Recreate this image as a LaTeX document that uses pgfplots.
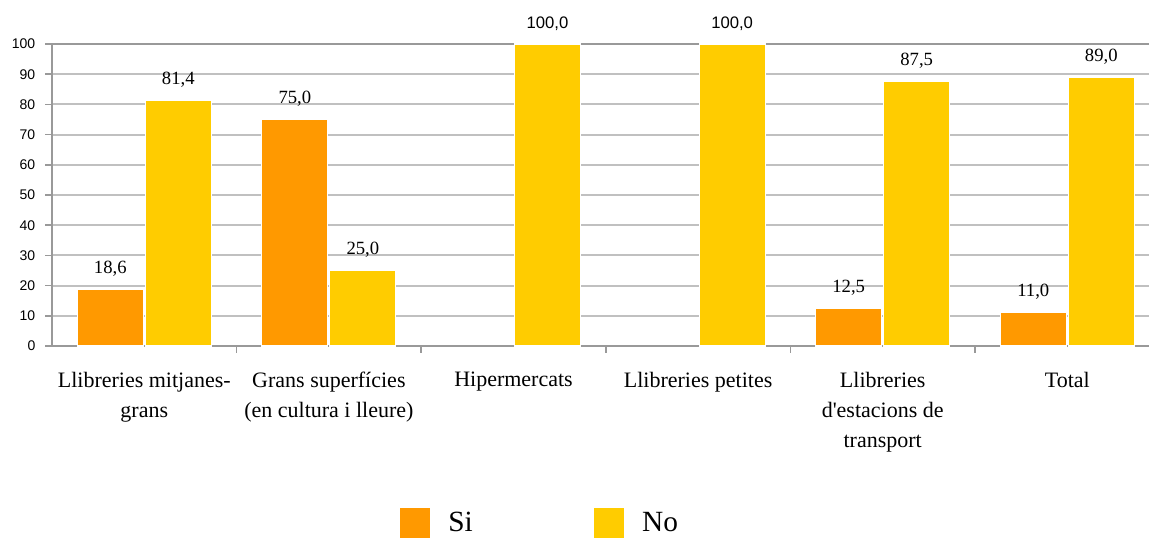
\documentclass[border=0pt]{standalone}
\usepackage{pgfplots}
\pgfplotsset{compat=1.18}
\usepackage{fontspec}
\setmainfont{Liberation Serif}
\newfontfamily\arialf{Liberation Sans}
\definecolor{siC}{HTML}{FF9900}
\definecolor{noC}{HTML}{FFCC00}
\definecolor{axC}{HTML}{999999}
\definecolor{grC}{HTML}{C0C0C0}
\begin{document}
\begin{tikzpicture}
\useasboundingbox (-39pt,-144.75pt) rectangle (822.75pt,259.5pt);
\begin{axis}[
  scale only axis,
  width=830.7pt, height=226.5pt,
  xmin=-0.5, xmax=5.5,
  ymin=0, ymax=100,
  ytick={0,10,...,100},
  xtick={0,1,2,3,4,5},
  xticklabels={Llibreries mitjanes-\\grans, Grans superfícies\\(en cultura i lleure), Hipermercats, Llibreries petites, Llibreries\\d\textquotesingle estacions de\\transport, Total},
  minor xtick={0.5,1.5,2.5,3.5,4.5},
  tick align=outside,
  major tick length=5pt,
  minor tick length=5pt,
  xtick pos=bottom, ytick pos=left,
  x tick style={draw=none},
  minor x tick style={draw=axC, line width=1.2pt},
  y tick style={draw=axC, line width=1.2pt},
  ymajorgrids,
  grid style={grC, line width=1.5pt},
  axis line style={axC, line width=1.7pt},
  /pgf/number format/assume math mode=true,
  yticklabel style={font=\arialf\fontsize{10.5}{12}\selectfont, xshift=-4pt},
  xticklabel style={font=\fontsize{16.5}{22.5}\selectfont, align=center, yshift=-11pt},
  ybar=1.5pt,
  bar width=49.5pt,
  point meta=explicit symbolic,
  nodes near coords,
  nodes near coords style={font=\fontsize{14}{14}\selectfont, yshift=6pt},
  legend style={draw=none, fill=none, at={(0.4405,-0.586)}, anchor=center,
    font=\fontsize{22}{22}\selectfont, legend columns=2,
    /tikz/every odd column/.append style={column sep=11pt},
    /tikz/every even column/.append style={column sep=88pt}},
  legend image code/.code={\fill[#1] (0pt,-11.6pt) rectangle (23.2pt,11.6pt);},
]
\addplot[fill=siC, draw=white, line width=0.8pt] coordinates {(0,18.6) [{18,6}] (1,75.0) [{75,0}] (4,12.5) [{12,5}] (5,11.0) [{11,0}]};
\addplot[fill=noC, draw=white, line width=0.8pt] coordinates {(0,81.4) [{81,4}] (1,25.0) [{25,0}] (2,100.0) [{\arialf\fontsize{12.5}{13}\selectfont 100,0}] (3,100.0) [{\arialf\fontsize{12.5}{13}\selectfont 100,0}] (4,87.5) [{87,5}] (5,89.0) [{89,0}]};
\legend{Si, No}
\end{axis}
\end{tikzpicture}
\end{document}
